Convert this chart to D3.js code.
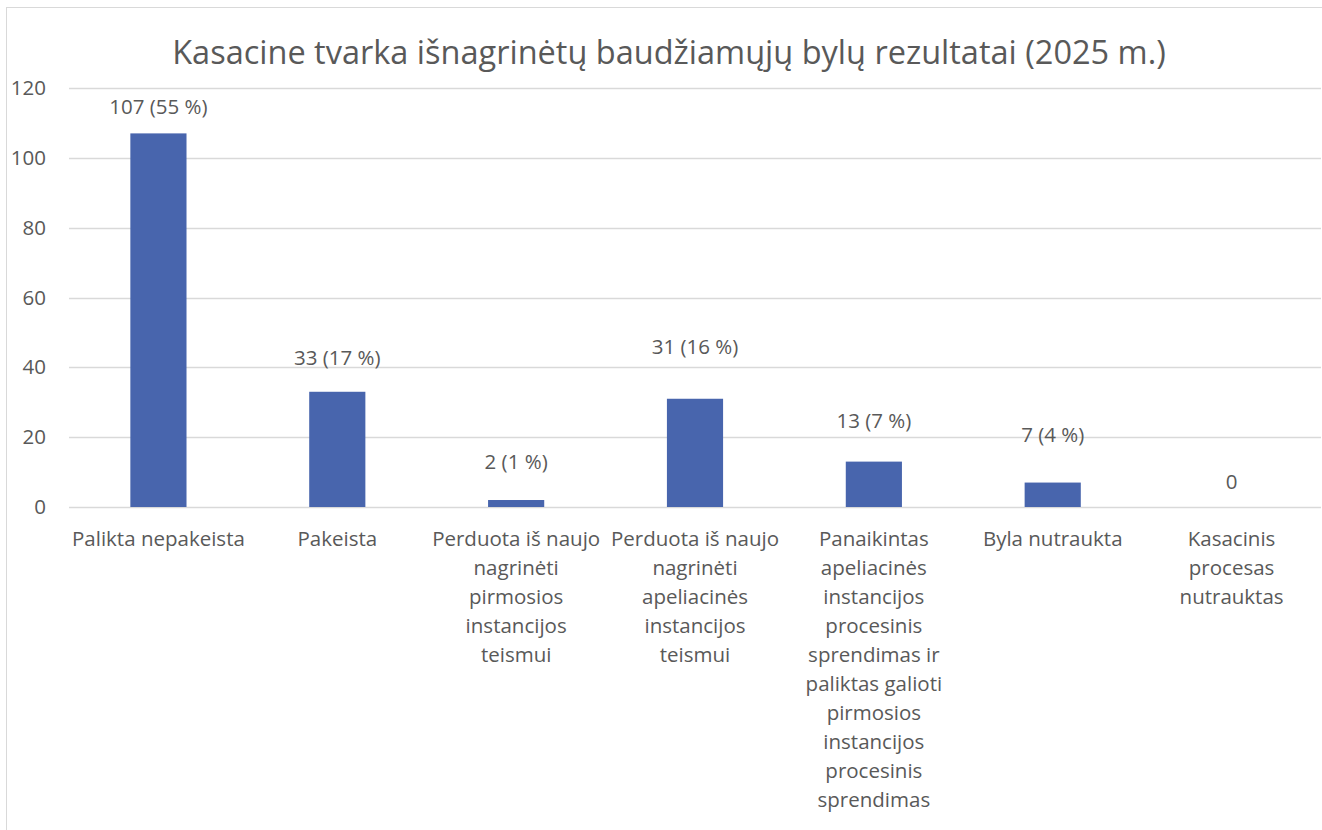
<!DOCTYPE html>
<html>
<head>
<meta charset="utf-8">
<script src="https://cdn.jsdelivr.net/npm/d3@7"></script>
<style>
  body { margin: 0; background: #fff; }
  svg text { font-family: "Open Sans", sans-serif; fill: #595959; }
</style>
</head>
<body>
<svg id="chart" width="1322" height="830"></svg>
<script>
// data
var categories = [
  ["Palikta nepakeista"],
  ["Pakeista"],
  ["Perduota iš naujo", "nagrinėti", "pirmosios", "instancijos", "teismui"],
  ["Perduota iš naujo", "nagrinėti", "apeliacinės", "instancijos", "teismui"],
  ["Panaikintas", "apeliacinės", "instancijos", "procesinis", "sprendimas ir", "paliktas galioti", "pirmosios", "instancijos", "procesinis", "sprendimas"],
  ["Byla nutraukta"],
  ["Kasacinis", "procesas", "nutrauktas"]
];
var values = [107, 33, 2, 31, 13, 7, 0];
var valueLabels = ["107 (55 %)", "33 (17 %)", "2 (1 %)", "31 (16 %)", "13 (7 %)", "7 (4 %)", "0"];
var yTicks = [0, 20, 40, 60, 80, 100, 120];
var title = "Kasacine tvarka išnagrinėtų baudžiamųjų bylų rezultatai (2025 m.)";

// where the data labels sit (in axis units), they were placed by hand
var labelAt = [114.5, 42.7, 12.9, 45.8, 24.6, 20.6, 7.2];

var svg = d3.select("#chart");
var fs = 20.5;

var margin = { left: 69, right: 1 };
var x = d3.scaleBand()
    .domain(d3.range(values.length))
    .range([margin.left, 1322 - margin.right])
    .paddingInner(0.686)
    .paddingOuter(0.343);
var y = d3.scaleLinear()
    .domain([0, 120])
    .range([507, 88]);

// chart border
svg.append("rect")
    .attr("x", 6.5).attr("y", 7.5)
    .attr("width", 1340).attr("height", 900)
    .attr("fill", "none")
    .attr("stroke", "#d9d9d9");

svg.append("text")
    .attr("x", 669).attr("y", 64)
    .attr("text-anchor", "middle")
    .attr("font-size", 32.5)
    .text(title);

// grid
svg.append("g")
  .selectAll("line")
  .data(yTicks)
  .enter().append("line")
    .attr("x1", margin.left).attr("x2", 1321)
    .attr("y1", function(d) { return Math.round(y(d)) + 0.5; })
    .attr("y2", function(d) { return Math.round(y(d)) + 0.5; })
    .attr("stroke", "#d9d9d9")
    .attr("stroke-width", 1.5);

var yAxis = svg.append("g")
    .attr("transform", "translate(" + (margin.left - 23) + ",0)")
    .call(d3.axisLeft(y).tickValues(yTicks).tickSize(0).tickPadding(0));
yAxis.select(".domain").remove();
yAxis.selectAll("text")
    .attr("font-size", fs)
    .attr("font-family", "'Open Sans', sans-serif")
    .attr("fill", "#595959");

// bars
svg.append("g")
  .selectAll("rect")
  .data(values)
  .enter().append("rect")
    .attr("x", function(d, i) { return x(i); })
    .attr("width", x.bandwidth())
    .attr("y", function(d) { return y(d); })
    .attr("height", function(d) { return y(0) - y(d); })
    .attr("fill", "#4865ad");

// data labels
svg.append("g")
  .selectAll("text")
  .data(valueLabels)
  .enter().append("text")
    .attr("x", function(d, i) { return x(i) + x.bandwidth() / 2; })
    .attr("y", function(d, i) { return y(labelAt[i]); })
    .attr("dy", "0.35em")
    .attr("text-anchor", "middle")
    .attr("font-size", fs)
    .text(function(d) { return d; });

// category labels
var cat = svg.append("g")
  .selectAll("text")
  .data(categories)
  .enter().append("text")
    .attr("text-anchor", "middle")
    .attr("font-size", fs)
    .attr("transform", function(d, i) {
      return "translate(" + (x(i) + x.bandwidth() / 2) + ",539)";
    });
cat.selectAll("tspan")
  .data(function(d) { return d; })
  .enter().append("tspan")
    .attr("x", 0)
    .attr("y", function(d, j) { return j * 29; })
    .attr("dy", "0.35em")
    .text(function(d) { return d; });
</script>
</body>
</html>
